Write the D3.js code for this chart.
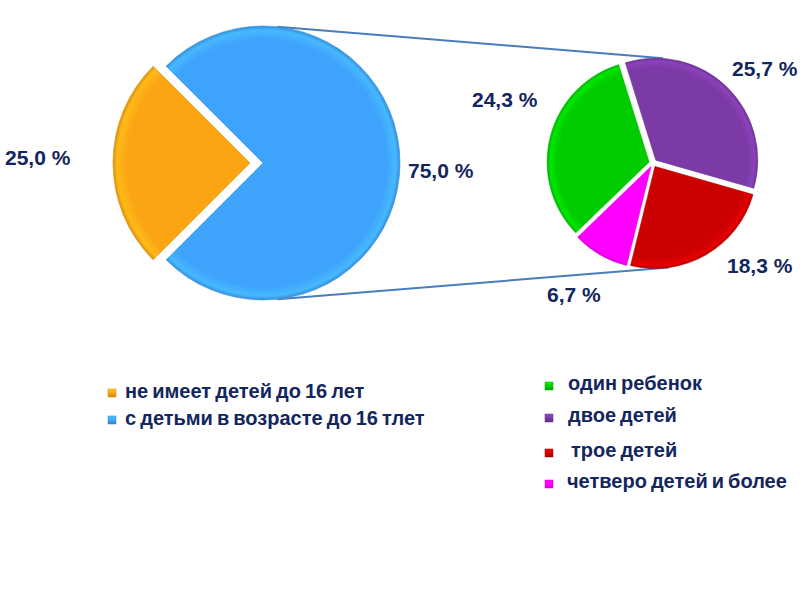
<!DOCTYPE html>
<html>
<head>
<meta charset="utf-8">
<script src="https://cdn.jsdelivr.net/npm/d3@7/dist/d3.min.js"></script>
<style>
  html, body { margin: 0; padding: 0; background: #ffffff; }
  svg { display: block; }
  text { font-family: "Liberation Sans", Arial, sans-serif; font-weight: bold; fill: #13265e; }
</style>
</head>
<body>
<svg id="chart" width="800" height="600"></svg>
<script>
// ---- Data ----
const mainCategories = ["не имеет детей до 16 лет", "с детьми в возрасте до 16 тлет"];
const mainValues = [25.0, 75.0];
const mainLabels = ["25,0 %", "75,0 %"];
const mainColors = ["#fba514", "#3ea3fb"];

const subCategories = ["один ребенок", "двое детей", "трое детей", "четверо детей и более"];
const subValues = [24.3, 25.7, 18.3, 6.7];
const subLabels = ["24,3 %", "25,7 %", "18,3 %", "6,7 %"];
const subColors = ["#00cc00", "#7b3aa5", "#cc0000", "#ff00ff"];

// ---- Layout ----
const svg = d3.select("#chart");
const deg = Math.PI / 180;
const defs = svg.append("defs");

const main = { cx: 263, cy: 163, r: 137, explode: [13, 0] };
const sub = { cx: 653, cy: 163, r: 102, explode: [4, 4, 4, 4] };

function drawPie(cfg, values, colors, startDeg, prefix) {
  const pie = d3.pie().sort(null).value(d => d)
    .startAngle(startDeg * deg).endAngle((startDeg + 360) * deg);
  const arcs = pie(values);
  const arc = d3.arc().innerRadius(0).outerRadius(cfg.r);
  const g = svg.append("g").attr("transform", `translate(${cfg.cx},${cfg.cy})`);
  arcs.forEach((a, i) => {
    const mid = (a.startAngle + a.endAngle) / 2;
    const e = cfg.explode[i];
    const dx = e * Math.sin(mid), dy = -e * Math.cos(mid);
    const id = prefix + i;
    const c = d3.color(colors[i]);
    const grad = defs.append("radialGradient").attr("id", id)
      .attr("gradientUnits", "userSpaceOnUse")
      .attr("cx", 0).attr("cy", 0).attr("r", cfg.r);
    grad.append("stop").attr("offset", "0%").attr("stop-color", c.formatHex());
    grad.append("stop").attr("offset", "90%").attr("stop-color", c.formatHex());
    grad.append("stop").attr("offset", "97%").attr("stop-color", c.brighter(0.35).formatHex());
    grad.append("stop").attr("offset", "100%").attr("stop-color", c.darker(0.4).formatHex());
    g.append("path")
      .attr("d", arc(a))
      .attr("transform", `translate(${dx},${dy})`)
      .attr("fill", `url(#${id})`)
      .attr("stroke", c.darker(0.3).formatHex())
      .attr("stroke-width", 0.6);
  });
  return arcs;
}

// leader lines (pie of pie connectors)
function pt(cfg, aDeg, r) {
  return [cfg.cx + r * Math.sin(aDeg * deg), cfg.cy - r * Math.cos(aDeg * deg)];
}
const lineColor = "#4a7ebb";
const top1 = pt(main, 6, main.r), top2 = pt({cx: sub.cx + 3, cy: sub.cy - 3}, 4, sub.r);
const bot1 = pt(main, 174, main.r), bot2 = pt({cx: sub.cx + 2, cy: sub.cy + 3.5}, 172, sub.r);
svg.append("line").attr("x1", top1[0]).attr("y1", top1[1]).attr("x2", top2[0]).attr("y2", top2[1])
  .attr("stroke", lineColor).attr("stroke-width", 2);
svg.append("line").attr("x1", bot1[0]).attr("y1", bot1[1]).attr("x2", bot2[0]).attr("y2", bot2[1])
  .attr("stroke", lineColor).attr("stroke-width", 2);

drawPie(main, mainValues, mainColors, 225, "mg");
drawPie(sub, subValues, subColors, 226, "sg");

// value labels
const mainLabelPos = [[5, 165], [408, 178]];
const subLabelPos = [[472, 107], [732, 76], [727, 273], [547, 302]];
mainLabels.forEach((t, i) => {
  svg.append("text").attr("x", mainLabelPos[i][0]).attr("y", mainLabelPos[i][1])
    .attr("font-size", 21).text(t);
});
subLabels.forEach((t, i) => {
  svg.append("text").attr("x", subLabelPos[i][0]).attr("y", subLabelPos[i][1])
    .attr("font-size", 21).text(t);
});

// legend markers with gradient
function marker(x, y, color, id) {
  const c = d3.color(color);
  const lg = defs.append("linearGradient").attr("id", id)
    .attr("x1", 0).attr("y1", 0).attr("x2", 0).attr("y2", 1);
  lg.append("stop").attr("offset", "0%").attr("stop-color", c.brighter(0.6).formatHex());
  lg.append("stop").attr("offset", "50%").attr("stop-color", c.formatHex());
  lg.append("stop").attr("offset", "100%").attr("stop-color", c.darker(0.6).formatHex());
  svg.append("rect").attr("x", x).attr("y", y).attr("width", 8).attr("height", 8)
    .attr("fill", `url(#${id})`).attr("stroke", c.darker(0.5).formatHex()).attr("stroke-width", 0.5);
}

const legendFont = 20;
const leftLegendRows = [398, 425];
mainCategories.forEach((t, i) => {
  marker(108, leftLegendRows[i] - 9, mainColors[i], "lm" + i);
  svg.append("text").attr("x", 125).attr("y", leftLegendRows[i])
    .attr("font-size", legendFont).attr("word-spacing", -1.5).text(t);
});

const rightLegendRows = [390, 422, 457, 488];
const rightLegendX = [568, 568, 571, 567];
subCategories.forEach((t, i) => {
  marker(545, rightLegendRows[i] - 8, subColors[i], "rm" + i);
  svg.append("text").attr("x", rightLegendX[i]).attr("y", rightLegendRows[i])
    .attr("font-size", legendFont).attr("word-spacing", -1.5).text(t);
});
</script>
</body>
</html>
